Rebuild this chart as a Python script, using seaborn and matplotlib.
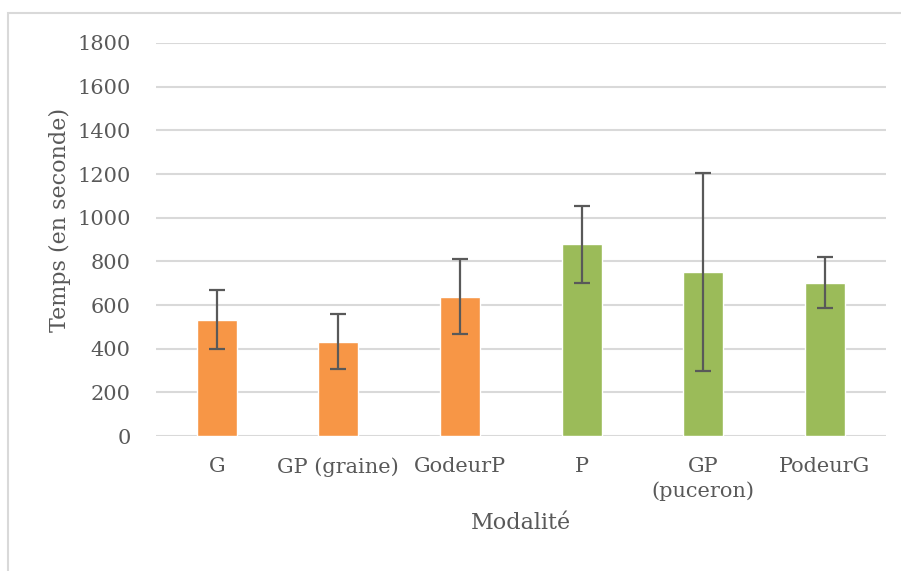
import numpy as np
import pandas as pd
import matplotlib
matplotlib.use("Agg")
import matplotlib.pyplot as plt
import seaborn as sns

# Data
modalites = ["G", "GP (graine)", "GodeurP", "P", "GP\n(puceron)", "PodeurG"]
groupes = ["graine", "graine", "graine", "puceron", "puceron", "puceron"]
temps_moyen = [532, 432, 637, 878, 752, 703]
ecart_type = [135, 125, 172, 176, 453, 117]

COLOR_ORANGE = "#F79646"
COLOR_GREEN = "#9BBB59"
COLOR_TEXT = "#595959"
COLOR_GRID = "#D9D9D9"
COLOR_ERR = "#595959"

sns.set_theme(style="white")
plt.rcParams['font.family'] = ['DejaVu Serif']
plt.rcParams['text.color'] = COLOR_TEXT
plt.rcParams['axes.labelcolor'] = COLOR_TEXT
plt.rcParams['xtick.color'] = COLOR_TEXT
plt.rcParams['ytick.color'] = COLOR_TEXT

df = pd.DataFrame({"Modalité": modalites, "Groupe": groupes, "Temps": temps_moyen, "SD": ecart_type})

fig = plt.figure(figsize=(9.01, 5.71), dpi=100)
ax = fig.add_axes([0.173, 0.2364, 0.810, 0.6883])

# Outer chart border (Excel style)
fig.patches.append(plt.Rectangle((8 / 901, -0.1), 1.2, 1 - 13 / 571 + 0.1, transform=fig.transFigure,
                                 fill=False, edgecolor="#D9D9D9", linewidth=1.5, zorder=0))

sns.barplot(data=df, x="Modalité", y="Temps", hue="Groupe", dodge=False,
            palette={"graine": COLOR_ORANGE, "puceron": COLOR_GREEN},
            saturation=1, width=0.33, legend=False, ax=ax, zorder=2)

ax.errorbar(np.arange(len(modalites)), df["Temps"], yerr=df["SD"], fmt="none",
            ecolor=COLOR_ERR, elinewidth=1.6, capsize=6, capthick=1.6, zorder=3)

ax.set_ylim(0, 1800)
ax.set_xlim(-0.5, len(modalites) - 0.5)
ax.set_yticks(range(0, 1801, 200))
ax.yaxis.grid(True, color=COLOR_GRID, linewidth=1.5, zorder=0)
ax.set_axisbelow(True)
for s in ax.spines.values():
    s.set_visible(False)
ax.tick_params(axis="both", length=0, labelsize=15)
ax.tick_params(axis="y", pad=18)
ax.tick_params(axis="x", pad=15)
for lbl in ax.get_xticklabels():
    lbl.set_linespacing(1.35)

ax.set_xlabel("Modalité", fontsize=16)
ax.set_ylabel("Temps (en seconde)", fontsize=16)
ax.xaxis.set_label_coords(0.5, -(523 - 436) / 393, transform=ax.transAxes)
ax.xaxis.label.set_va("center")
ax.yaxis.set_label_coords(-(156 - 60) / 730, (436 - 220) / 393, transform=ax.transAxes)
ax.yaxis.label.set_va("center")

fig.savefig("out.png", dpi=100)
